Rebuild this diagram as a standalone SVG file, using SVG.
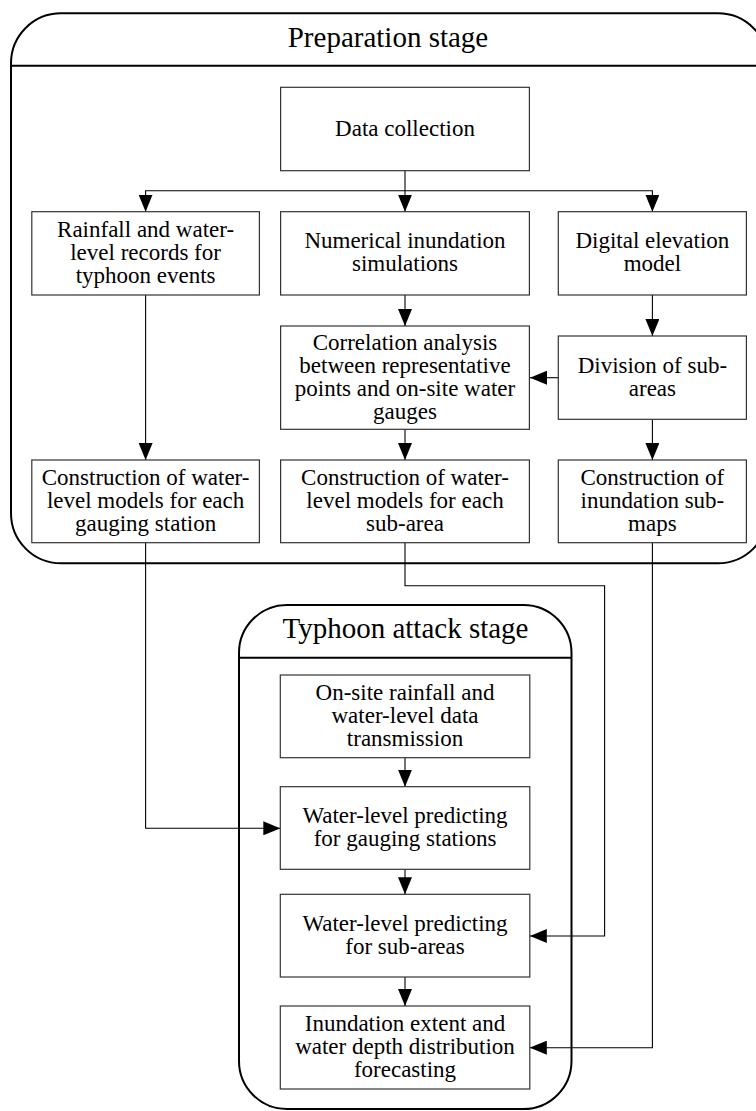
<svg xmlns="http://www.w3.org/2000/svg" width="756" height="1111" viewBox="0 0 756 1111">
<style>
.stage{fill:none;stroke:#000;stroke-width:2}
.box{fill:#fff;stroke:#333;stroke-width:1.2}
.t{font-family:"Liberation Serif","Times New Roman",serif;font-size:23px;fill:#000;text-anchor:middle}
.h{font-family:"Liberation Serif","Times New Roman",serif;font-size:29px;fill:#000;text-anchor:middle}
.c{fill:none;stroke:#000;stroke-width:1.1}
</style>
<defs>
<marker id="ah" markerUnits="userSpaceOnUse" markerWidth="17" markerHeight="14" refX="17" refY="7" orient="auto">
<path d="M0,0 L17,7 L0,14 z" fill="#000"/>
</marker>
</defs>
<rect width="756" height="1111" fill="#fff"/>
<g id="prep-stage">
<rect class="stage" x="11" y="13.3" width="757" height="550" rx="50" ry="50"/>
<line class="stage" x1="11" y1="65.7" x2="756" y2="65.7"/>
<text class="h" x="388" y="47">Preparation stage</text>
</g>
<g id="typhoon-stage">
<rect class="stage" x="239" y="605" width="332.5" height="504" rx="48" ry="48"/>
<line class="stage" x1="239" y1="657.7" x2="571.5" y2="657.7"/>
<text class="h" x="405.5" y="638.3">Typhoon attack stage</text>
</g>
<g id="connectors">
<path class="c" d="M405,170.7 V211.7" marker-end="url(#ah)"/>
<path class="c" d="M405,190.7 H145.6 V211.7" marker-end="url(#ah)"/>
<path class="c" d="M405,190.7 H652.4 V211.7" marker-end="url(#ah)"/>
<path class="c" d="M405,295 V326" marker-end="url(#ah)"/>
<path class="c" d="M652.4,295 V336" marker-end="url(#ah)"/>
<path class="c" d="M558.3,377.7 H530" marker-end="url(#ah)"/>
<path class="c" d="M145.6,295 V460" marker-end="url(#ah)"/>
<path class="c" d="M405,429.3 V460" marker-end="url(#ah)"/>
<path class="c" d="M652.4,419.3 V460" marker-end="url(#ah)"/>
<path class="c" d="M145.6,542.7 V828.3 H280.3" marker-end="url(#ah)"/>
<path class="c" d="M405,542.7 V585.7 H604.6 V936 H529.8" marker-end="url(#ah)"/>
<path class="c" d="M652.4,542.7 V1047.7 H529.8" marker-end="url(#ah)"/>
<path class="c" d="M405,757.7 V786.7" marker-end="url(#ah)"/>
<path class="c" d="M405,869.3 V894.3" marker-end="url(#ah)"/>
<path class="c" d="M405,977 V1006" marker-end="url(#ah)"/>
</g>
<g id="data-collection">
<rect class="box" x="280.6" y="87.3" width="248.8" height="83.4"/>
<text class="t" x="405" y="135.5">Data collection</text>
</g>
<g id="rainfall-records">
<rect class="box" x="31.8" y="211.7" width="227.6" height="83.3"/>
<text class="t" x="145.6" y="236.9">Rainfall and water-</text>
<text class="t" x="145.6" y="259.9">level records for</text>
<text class="t" x="145.6" y="282.9">typhoon events</text>
</g>
<g id="numerical-simulations">
<rect class="box" x="280.6" y="211.7" width="248.8" height="83.3"/>
<text class="t" x="405" y="248.4">Numerical inundation</text>
<text class="t" x="405" y="271.4">simulations</text>
</g>
<g id="dem">
<rect class="box" x="558.3" y="211.7" width="188.1" height="83.3"/>
<text class="t" x="652.4" y="248.4">Digital elevation</text>
<text class="t" x="652.4" y="271.4">model</text>
</g>
<g id="correlation-analysis">
<rect class="box" x="280.6" y="326" width="248.8" height="103.3"/>
<text class="t" x="405" y="349.7">Correlation analysis</text>
<text class="t" x="405" y="372.7">between representative</text>
<text class="t" x="405" y="395.7">points and on-site water</text>
<text class="t" x="405" y="418.7">gauges</text>
</g>
<g id="division-subareas">
<rect class="box" x="558.3" y="336" width="188.1" height="83.3"/>
<text class="t" x="652.4" y="372.7">Division of sub-</text>
<text class="t" x="652.4" y="395.7">areas</text>
</g>
<g id="wl-models-stations">
<rect class="box" x="31.8" y="460" width="227.6" height="82.7"/>
<text class="t" x="145.6" y="484.9">Construction of water-</text>
<text class="t" x="145.6" y="507.9">level models for each</text>
<text class="t" x="145.6" y="530.9">gauging station</text>
</g>
<g id="wl-models-subareas">
<rect class="box" x="280.6" y="460" width="248.8" height="82.7"/>
<text class="t" x="405" y="484.9">Construction of water-</text>
<text class="t" x="405" y="507.9">level models for each</text>
<text class="t" x="405" y="530.9">sub-area</text>
</g>
<g id="inundation-submaps">
<rect class="box" x="558.3" y="460" width="188.1" height="82.7"/>
<text class="t" x="652.4" y="484.9">Construction of</text>
<text class="t" x="652.4" y="507.9">inundation sub-</text>
<text class="t" x="652.4" y="530.9">maps</text>
</g>
<g id="data-transmission">
<rect class="box" x="280.3" y="675" width="249.5" height="82.7"/>
<text class="t" x="405" y="699.9">On-site rainfall and</text>
<text class="t" x="405" y="722.9">water-level data</text>
<text class="t" x="405" y="745.9">transmission</text>
</g>
<g id="predict-stations">
<rect class="box" x="280.3" y="786.7" width="249.5" height="82.6"/>
<text class="t" x="405" y="823">Water-level predicting</text>
<text class="t" x="405" y="846">for gauging stations</text>
</g>
<g id="predict-subareas">
<rect class="box" x="280.3" y="894.3" width="249.5" height="82.7"/>
<text class="t" x="405" y="930.7">Water-level predicting</text>
<text class="t" x="405" y="953.7">for sub-areas</text>
</g>
<g id="forecasting">
<rect class="box" x="280.3" y="1006" width="249.5" height="83"/>
<text class="t" x="405" y="1031">Inundation extent and</text>
<text class="t" x="405" y="1054">water depth distribution</text>
<text class="t" x="405" y="1077">forecasting</text>
</g>
</svg>
